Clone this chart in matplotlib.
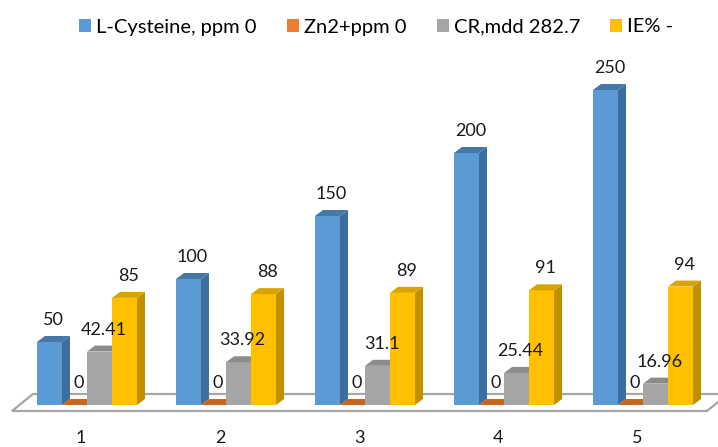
import numpy as np
import matplotlib
matplotlib.use("Agg")
import matplotlib.pyplot as plt
from matplotlib.patches import Polygon, Patch

# ---------------- data ----------------
categories = ["1", "2", "3", "4", "5"]
series_names = ["L-Cysteine, ppm 0", "Zn2+ppm 0", "CR,mdd 282.7", "IE% -"]
cysteine = [50, 100, 150, 200, 250]
zn = [0, 0, 0, 0, 0]
cr = [42.41, 33.92, 31.1, 25.44, 16.96]
ie = [85, 88, 89, 91, 94]
series_values = [cysteine, zn, cr, ie]
label_texts = [
    ["50", "100", "150", "200", "250"],
    ["0", "0", "0", "0", "0"],
    ["42.41", "33.92", "31.1", "25.44", "16.96"],
    ["85", "88", "89", "91", "94"],
]

front_cols = ["#5B9BD5", "#ED7D31", "#A5A5A5", "#FFC000"]
side_cols = ["#3B6E9E", "#B35C1E", "#7C7C7C", "#BF9000"]
top_cols = ["#4677A6", "#C9651F", "#8C8C8C", "#D9A400"]

plt.rcParams["font.family"] = ["Lato", "DejaVu Sans"]

W, H = 718, 447
fig = plt.figure(figsize=(W / 100, H / 100), dpi=100)
ax_bottom_px = 420
ax = fig.add_axes([0, (H - ax_bottom_px) / H, 1, ax_bottom_px / H])

px_per_x = 139.0        # pixels per category step
px_per_y = 1.26         # pixels per value unit
x0_px = 87.0            # pixel of first category centre
base_px = 405.0         # pixel row of bar bottoms
ax.set_xlim(-x0_px / px_per_x, (W - x0_px) / px_per_x)
ax.set_ylim(-(ax_bottom_px - base_px) / px_per_y, base_px / px_per_y)
ax.axis("off")

# 3D depth offsets (in data units)
dx = 8 / px_per_x
dy = 6 / px_per_y

# floor slab
fx = lambda p: (p - x0_px) / px_per_x
fy = lambda p: (base_px - p) / px_per_y
floor = Polygon([(fx(12), fy(411)), (fx(707), fy(411)), (fx(728), fy(394)), (fx(33), fy(394))],
                closed=True, facecolor="white", edgecolor="#A6A6A6", lw=1.6, zorder=1)
ax.add_patch(floor)

x = np.arange(len(categories))
width = 0.18
offsets = [-0.27, -0.09, 0.09, 0.27]

for k, vals in enumerate(series_values):
    xs = x + offsets[k]
    z = 3 + k
    ax.bar(xs, vals, width=width, color=front_cols[k], zorder=z, linewidth=0)
    for xi, v, lab in zip(xs, vals, label_texts[k]):
        l, r = xi - width / 2, xi + width / 2
        side = Polygon([(r, 0), (r + dx, dy), (r + dx, v + dy), (r, v)],
                       closed=True, facecolor=side_cols[k], lw=0, zorder=z)
        top = Polygon([(l, v), (r, v), (r + dx, v + dy), (l + dx, v + dy)],
                      closed=True, facecolor=top_cols[k], lw=0, zorder=z)
        ax.add_patch(side)
        ax.add_patch(top)
        ax.annotate(lab, (xi + dx / 2, v), xytext=(0, 22), textcoords="offset pixels",
                    ha="center", va="center", fontsize=13, color="#1a1a1a", zorder=10)

for xi, c in zip(x, categories):
    ax.text(xi - 6 / px_per_x, fy(438), c, ha="center", va="center", fontsize=13,
            color="#1a1a1a", clip_on=False)

handles = [Patch(facecolor=c, edgecolor="none") for c in front_cols]
fig.legend(handles, series_names, loc="center", bbox_to_anchor=(0.524, 1 - 27 / H), ncol=4,
           frameon=False, fontsize=14.5, handlelength=0.6, handleheight=0.6,
           handletextpad=0.25, columnspacing=1.5, borderpad=0)

fig.savefig("out.png", dpi=100)
